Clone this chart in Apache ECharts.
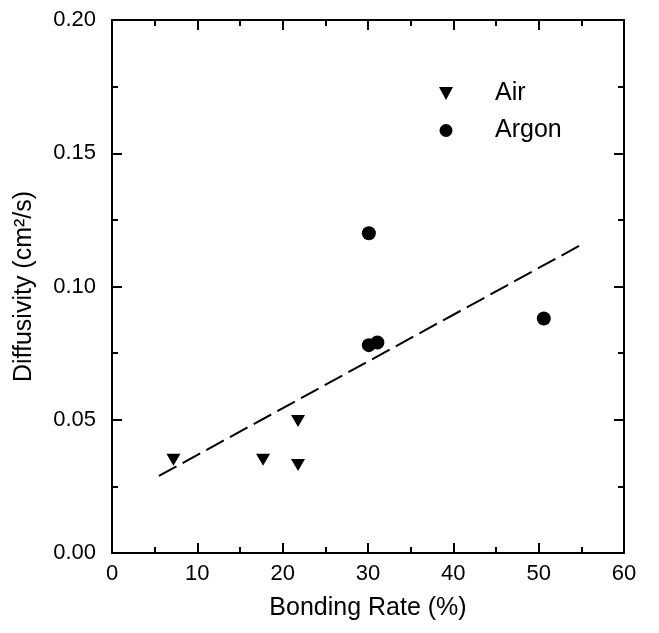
<!DOCTYPE html>
<html>
<head>
<meta charset="utf-8">
<script src="https://cdn.jsdelivr.net/npm/echarts@6/dist/echarts.min.js"></script>
<style>
  html, body { margin: 0; padding: 0; background: #fff; }
  #chart { width: 659px; height: 633px; }
</style>
</head>
<body>
<div id="chart"></div>
<script>
// bonding rate (%) vs diffusivity (cm2/s)
const airX = [7.2, 17.7, 21.8, 21.8];
const airY = [0.035, 0.035, 0.0495, 0.033];
const argonX = [30.1, 30.1, 31.1, 50.6];
const argonY = [0.120, 0.078, 0.079, 0.088];
const fitX = [5.5, 55];
const fitY = [0.0289, 0.1157];

const FONT = "Liberation Sans, Arial, Helvetica, sans-serif";
const INK = "#000";
const DOWN_TRIANGLE = "path://M0,0 L12,0 L6,11 Z";

const chart = echarts.init(document.getElementById("chart"), null, { renderer: "canvas" });

const baseAxis = {
  axisLine: { show: true, onZero: false, lineStyle: { color: INK, width: 2 } },
  axisTick: { show: true, inside: true, length: 10, lineStyle: { color: INK, width: 2 } },
  minorTick: { show: true, splitNumber: 2, length: 6, lineStyle: { color: INK, width: 2 } },
  splitLine: { show: false },
};

chart.setOption({
  backgroundColor: "#fff",
  animation: false,
  grid: { left: 112, right: 35, top: 20, bottom: 80 },
  legend: {
    orient: "vertical",
    left: 434,
    top: 76,
    itemWidth: 14,
    itemHeight: 13,
    itemGap: 12,
    itemStyle: { opacity: 1 },
    textStyle: { fontFamily: FONT, fontSize: 25, color: INK, padding: [0, 0, 0, 37] },
    data: [
      { name: "Air", icon: DOWN_TRIANGLE },
      { name: "Argon", icon: "circle" },
    ],
  },
  xAxis: [
    {
      ...baseAxis,
      type: "value",
      min: 0,
      max: 60,
      interval: 10,
      position: "bottom",
      name: "Bonding Rate (%)",
      nameLocation: "middle",
      nameGap: 43,
      nameTextStyle: { fontFamily: FONT, fontSize: 25, color: INK },
      axisLabel: { fontFamily: FONT, fontSize: 22, color: INK, margin: 10 },
    },
    {
      ...baseAxis,
      type: "value",
      min: 0,
      max: 60,
      interval: 10,
      position: "top",
      axisLabel: { show: false },
    },
  ],
  yAxis: [
    {
      ...baseAxis,
      type: "value",
      min: 0,
      max: 0.2,
      interval: 0.05,
      position: "left",
      name: "Diffusivity (cm²/s)",
      nameLocation: "middle",
      nameGap: 75,
      nameTextStyle: { fontFamily: FONT, fontSize: 25, color: INK },
      axisLabel: {
        fontFamily: FONT,
        fontSize: 22,
        color: INK,
        margin: 16,
        formatter: (v) => v.toFixed(2),
      },
    },
    {
      ...baseAxis,
      type: "value",
      min: 0,
      max: 0.2,
      interval: 0.05,
      position: "right",
      axisLabel: { show: false },
    },
  ],
  series: [
    {
      name: "fit",
      type: "line",
      data: fitX.map((x, i) => [x, fitY[i]]),
      symbol: "none",
      lineStyle: { color: INK, width: 2, type: [20, 7] },
      silent: true,
      z: 1,
    },
    {
      name: "Air",
      type: "scatter",
      data: airX.map((x, i) => [x, airY[i]]),
      symbol: DOWN_TRIANGLE,
      symbolSize: [14, 12],
      itemStyle: { color: INK, opacity: 1 },
      z: 3,
    },
    {
      name: "Argon",
      type: "scatter",
      data: argonX.map((x, i) => [x, argonY[i]]),
      symbol: "circle",
      symbolSize: 14,
      itemStyle: { color: INK, opacity: 1 },
      z: 3,
    },
  ],
});
</script>
</body>
</html>
